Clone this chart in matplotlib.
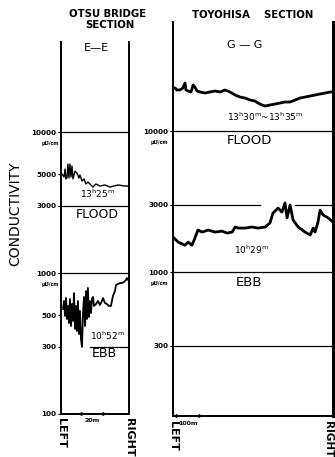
"""
Conductivity across Otsu Bridge and Toyohisa sections (flood / ebb).
Log-scale conductivity vs distance from left bank.
"""

import matplotlib.pyplot as plt
from matplotlib.ticker import NullLocator, FixedLocator, FixedFormatter

# --- Data (distance from left bank in m, conductivity in micro-mho/cm) ---
# Otsu Bridge E-E, flood 13h25m
otsu_flood_x = [0.7, 2.1, 2.8, 3.4, 4.1, 4.8, 5.5, 6.2, 6.9, 7.6, 8.3, 9.7, 11.0,
                12.4, 13.1, 14.5, 15.9, 17.2, 18.6, 20.0, 22.1, 24.1, 26.9, 30.4,
                33.8, 39.3, 44.2, 46.9]
otsu_flood_y = [5040, 4800, 5470, 4650, 4720, 5930, 4720, 5930, 4800, 5740, 4650,
                5280, 5120, 4720, 4960, 4490, 4650, 4280, 4420, 4280, 4070, 4280,
                4140, 4210, 4070, 4210, 4140, 4140]

# Otsu Bridge E-E, ebb 10h52m
otsu_ebb_x = [1.4, 2.1, 2.8, 3.5, 4.1, 4.8, 5.5, 6.2, 6.9, 7.6, 8.3, 9.0, 9.7,
              10.4, 11.0, 11.7, 12.4, 13.1, 13.8, 14.5, 15.2, 15.9, 16.6, 17.3,
              17.9, 18.6, 19.3, 20.0, 20.7, 21.4, 22.1, 22.8, 24.2, 25.5, 26.9,
              28.3, 29.0, 30.4, 31.7, 33.1, 34.5, 35.2, 35.9, 37.3, 38.0, 39.3,
              40.7, 42.1, 43.5, 44.9, 45.5, 46.9]
otsu_ebb_y = [556, 633, 496, 665, 472, 584, 442, 655, 421, 603, 457, 721, 401,
              584, 388, 633, 369, 538, 340, 299, 520, 676, 421, 745, 472, 783,
              488, 633, 520, 655, 676, 584, 603, 633, 593, 633, 665, 613, 603,
              584, 584, 633, 687, 745, 822, 836, 849, 849, 863, 892, 921, 877]

# Toyohisa G-G, flood 13h30m-13h35m
toyo_flood_x = [0, 7, 13, 23, 33, 40, 43, 50, 60, 67, 73, 80, 90, 107, 123, 140,
                157, 173, 190, 207, 223, 240, 257, 273, 283, 297, 307, 323, 340,
                357, 373, 390, 407, 423, 440, 457, 473, 490, 507, 523, 533]
toyo_flood_y = [20180, 20180, 19540, 19540, 20180, 21900, 19540, 19220, 18910,
                21200, 20510, 19220, 18910, 18600, 18910, 19220, 18910, 19540,
                18910, 18000, 17420, 17140, 16590, 16320, 15800, 15290, 15040,
                15290, 15540, 15800, 16060, 16060, 16590, 17140, 17420, 17710,
                18000, 18300, 18600, 18910, 18910]

# Toyohisa G-G, ebb 10h29m
toyo_ebb_x = [0, 17, 40, 50, 63, 73, 83, 97, 117, 140, 163, 180, 197, 207, 217,
              240, 263, 283, 307, 323, 333, 350, 363, 373, 380, 390, 400, 417,
              440, 457, 467, 473, 483, 490, 500, 517, 533]
toyo_ebb_y = [1770, 1630, 1550, 1630, 1550, 1740, 1985, 1920, 1985, 1920, 1950,
              1890, 1920, 2085, 2050, 2050, 2085, 2050, 2085, 2230, 2620, 2840,
              2660, 3090, 2420, 2990, 2340, 2085, 1920, 1830, 2050, 1920, 2260,
              2750, 2540, 2420, 2260]

otsu_ticks = [100, 300, 500, 1000, 3000, 5000, 10000]
otsu_tick_labels = ["100", "300", "500", "1000", "3000", "5000", "10000"]
toyo_ticks = [300, 1000, 3000, 10000]
toyo_tick_labels = ["300", "1000", "3000", "10000"]

W, H = 335, 457
fig = plt.figure(figsize=(W / 100, H / 100), dpi=100)
fig.patch.set_facecolor("white")

axL = fig.add_axes([61 / W, 1 - 414 / H, 68 / W, 372 / H])
axR = fig.add_axes([173 / W, 1 - 416 / H, 160 / W, 394 / H])


def style_panel(ax, ticks, labels, xmax, ylo, yhi):
    ax.set_yscale("log")
    ax.set_xlim(0, xmax)
    ax.set_ylim(ylo, yhi)
    ax.set_xticks([])
    ax.yaxis.set_major_locator(FixedLocator(ticks))
    ax.yaxis.set_major_formatter(FixedFormatter(labels))
    ax.yaxis.set_minor_locator(NullLocator())
    ax.tick_params(axis="y", direction="out", length=2.5, width=0.8,
                   labelsize=5.2, pad=1)
    for lab in ax.get_yticklabels():
        lab.set_fontweight("bold")
    ax.spines["top"].set_visible(False)
    for s in ("left", "right", "bottom"):
        ax.spines[s].set_linewidth(1.4)
    ax.patch.set_alpha(0)


style_panel(axL, otsu_ticks, otsu_tick_labels, 47, 100, 43500)
style_panel(axR, toyo_ticks, toyo_tick_labels, 533, 95.3, 59300)
axR.spines["right"].set_linewidth(2.2)

# reference lines
for v in (10000, 3000, 1000):
    axL.axhline(v, color="black", lw=0.9)
axL.plot([20, 45.5], [300, 300], color="black", lw=0.9)
axR.axhline(10000, color="black", lw=0.9)
axR.plot([0, 290], [3000, 3000], color="black", lw=0.9)
axR.plot([407, 533], [3000, 3000], color="black", lw=0.9)
axR.axhline(1000, color="black", lw=0.9)
axR.axhline(300, color="black", lw=0.9)

# curves
axL.plot(otsu_flood_x, otsu_flood_y, color="black", lw=1.0)
axL.plot(otsu_ebb_x, otsu_ebb_y, color="black", lw=1.3)
axR.plot(toyo_flood_x, toyo_flood_y, color="black", lw=2.0)
axR.plot(toyo_ebb_x, toyo_ebb_y, color="black", lw=2.0)

# unit labels under 10000 and 1000
for ax in (axL, axR):
    for v in (8300, 830):
        ax.text(-0.03, v, "μ℧/cm", transform=ax.get_yaxis_transform(),
                ha="right", va="center", fontsize=3.5, fontweight="bold")

# panel texts
axL.text(24.8, 39400, "E—E", ha="center", va="center", fontsize=8)
axL.text(25.5, 3630, r"13$^{\rm h}$25$^{\rm m}$", ha="center", va="center",
         fontsize=6.5)
axL.text(24.8, 2620, "FLOOD", ha="center", va="center", fontsize=9)
axL.text(32.4, 357, r"10$^{\rm h}$52$^{\rm m}$", ha="center", va="center",
         fontsize=6.5)
axL.text(29.7, 267, "EBB", ha="center", va="center", fontsize=9)

axR.text(240, 40700, "G — G", ha="center", va="center", fontsize=8)
axR.text(307, 12570, r"13$^{\rm h}$30$^{\rm m}$~13$^{\rm h}$35$^{\rm m}$",
         ha="center", va="center", fontsize=6.5)
axR.text(253, 8630, "FLOOD", ha="center", va="center", fontsize=9.5)
axR.text(260, 1432, r"10$^{\rm h}$29$^{\rm m}$", ha="center", va="center",
         fontsize=6.5)
axR.text(253, 849, "EBB", ha="center", va="center", fontsize=9.5)

# distance scale bars
axL.annotate("", xy=(31.7, 100), xytext=(11.7, 100), annotation_clip=False,
             arrowprops=dict(arrowstyle="<|-|>", lw=0.8, color="black",
                             mutation_scale=5, shrinkA=0, shrinkB=0))
axL.text(21.7, -0.012, "20m", transform=axL.get_xaxis_transform(),
         ha="center", va="top", fontsize=4.5, fontweight="bold")
axR.annotate("", xy=(100, 95.3), xytext=(0, 95.3), annotation_clip=False,
             arrowprops=dict(arrowstyle="<|-|>", lw=0.8, color="black",
                             mutation_scale=5, shrinkA=0, shrinkB=0))
axR.text(50, -0.012, "100m", transform=axR.get_xaxis_transform(),
         ha="center", va="top", fontsize=4.5, fontweight="bold")

# bank labels
for ax, xmax in ((axL, 47), (axR, 533)):
    tr = ax.get_xaxis_transform()
    ax.text(0, -0.012, "LEFT", transform=tr, rotation=270, ha="center",
            va="top", fontsize=8, fontweight="bold")
axL.text(47, -0.012, "RIGHT", transform=axL.get_xaxis_transform(),
         rotation=270, ha="center", va="top", fontsize=8, fontweight="bold")
axR.text(533, -0.012, "RIGHT", transform=axR.get_xaxis_transform(),
         rotation=270, ha="right", va="top", fontsize=7.5, fontweight="bold")

# figure titles
fig.text(108 / W, 1 - 14 / H, "OTSU BRIDGE", ha="center", va="center",
         fontsize=7.3, fontweight="bold")
fig.text(110 / W, 1 - 25 / H, "SECTION", ha="center", va="center",
         fontsize=7.3, fontweight="bold")
fig.text(253 / W, 1 - 15 / H, "TOYOHISA    SECTION", ha="center", va="center",
         fontsize=7.3, fontweight="bold")
fig.text(15 / W, 1 - 214 / H, "CONDUCTIVITY", rotation=90, ha="center",
         va="center", fontsize=10)

plt.savefig("out.png", dpi=100)
